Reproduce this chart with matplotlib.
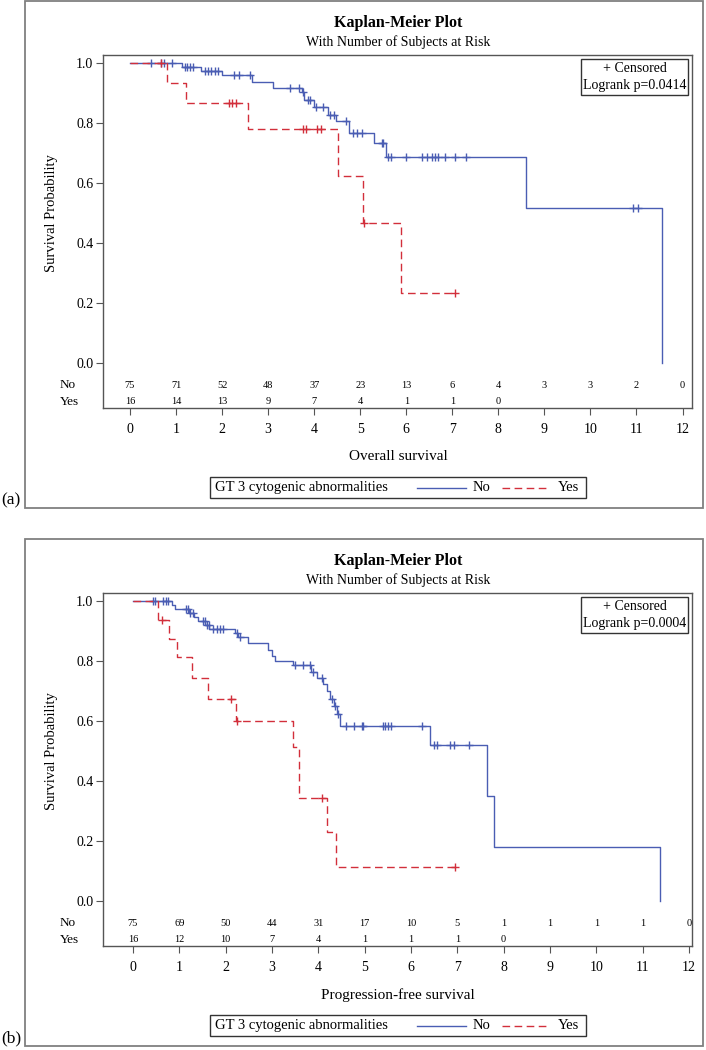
import numpy as np
import matplotlib
matplotlib.use('Agg')
import matplotlib.pyplot as plt
from matplotlib.patches import Rectangle
from matplotlib.lines import Line2D

plt.rcParams['font.family'] = ['Liberation Serif', 'DejaVu Serif']

W, H = 706, 1050
blue = '#4a5db3'
red = '#d22f3b'
frame = '#555555'

# ---- (a) overall survival ----
os_no_t = [0, 1.12, 1.55, 1.99, 2.65, 3.11, 3.73, 3.79, 4.0, 4.31, 4.47, 4.76,
           5.29, 5.57, 8.6, 11.55]
os_no_s = [1.0, 0.987, 0.973, 0.959, 0.938, 0.917, 0.903, 0.876, 0.853, 0.828,
           0.806, 0.768, 0.733, 0.686, 0.515, 0.0]
os_no_end = 11.55
os_no_cens = [0.45, 0.67, 0.73, 0.92, 1.19, 1.24, 1.3, 1.36, 1.63, 1.7, 1.77,
              1.84, 1.91, 2.26, 2.36, 2.61, 3.48, 3.67, 3.76, 3.87, 3.9, 4.05,
              4.2, 4.34, 4.42, 4.69, 4.85, 4.94, 5.03, 5.47, 5.5, 5.61, 5.67,
              6.0, 6.35, 6.45, 6.55, 6.62, 6.7, 6.85, 7.05, 7.3, 10.93, 11.03]

os_yes_t = [0, 0.8, 1.22, 2.57, 4.51, 5.05, 5.89]
os_yes_s = [1.0, 0.933, 0.867, 0.78, 0.624, 0.468, 0.234]
os_yes_end = 7.06
os_yes_cens = [0.68, 2.14, 2.22, 2.3, 3.75, 3.82, 4.06, 4.14, 5.09, 7.06]

os_no_risk = [75, 71, 52, 48, 37, 23, 13, 6, 4, 3, 3, 2, 0]
os_yes_risk = [16, 14, 13, 9, 7, 4, 1, 1, 0]

# ---- (b) progression-free survival ----
pfs_no_t = [0, 0.835, 0.905, 1.2, 1.31, 1.41, 1.56, 1.65, 2.2, 2.27, 2.49, 2.92,
            2.99, 3.06, 3.45, 3.85, 3.97, 4.10, 4.19, 4.26, 4.34, 4.40, 4.46,
            6.40, 7.63, 7.80, 11.37]
pfs_no_s = [1.0, 0.987, 0.973, 0.96, 0.947, 0.933, 0.92, 0.907, 0.893, 0.879,
            0.859, 0.837, 0.818, 0.8, 0.787, 0.765, 0.745, 0.722, 0.70, 0.673,
            0.65, 0.625, 0.585, 0.52, 0.35, 0.18, 0.0]
pfs_no_end = 11.37
pfs_no_cens = [0.44, 0.47, 0.65, 0.71, 0.76, 1.14, 1.19, 1.23, 1.29, 1.52, 1.55,
               1.60, 1.64, 1.73, 1.82, 1.88, 1.95, 2.24, 2.30, 3.50, 3.67, 3.83,
               3.88, 4.08, 4.30, 4.37, 4.43, 4.6, 4.77, 4.94, 4.97, 5.39, 5.44,
               5.5, 5.56, 6.23, 6.5, 6.57, 6.84, 6.93, 7.26]

pfs_yes_t = [0, 0.546, 0.777, 0.956, 1.267, 1.608, 2.217, 3.46, 3.583, 4.18, 4.375]
pfs_yes_s = [1.0, 0.9375, 0.875, 0.8125, 0.742, 0.675, 0.6, 0.514, 0.343, 0.229,
             0.114]
pfs_yes_end = 6.95
pfs_yes_cens = [0.62, 2.115, 2.245, 4.08, 6.95]

pfs_no_risk = [75, 69, 50, 44, 31, 17, 10, 5, 1, 1, 1, 1, 0]
pfs_yes_risk = [16, 12, 10, 7, 4, 1, 1, 1, 0]


def fx(x):
    return x / W


def fy(y):
    return 1 - y / H


def km(ax, t, s, end, cens, color, dashed, z):
    xs = list(t) + [end]
    ys = list(s) + [s[-1]]
    line, = ax.step(xs, ys, where='post', color=color, lw=1.0, zorder=z)
    if dashed:
        line.set_dashes([5.5, 3.2])
    idx = np.searchsorted(t, cens, side='right') - 1
    ax.plot(cens, np.array(s)[idx], ls='none', marker='+', ms=6, mew=1.0,
            color=color, zorder=z)


def panel(fig, dy, x0, x12, curves, risk_no, risk_yes, xlabel, pval, tag):
    # outer frame and label
    fig.add_artist(Rectangle((fx(25), fy(508 + dy)), fx(678), 507 / H,
                             transform=fig.transFigure, fill=False,
                             ec='#808080', lw=1.3))
    fig.text(fx(1), fy(500 + dy), tag, ha='left', va='center', fontsize=12.5)
    fig.text(fx(398), fy(23 + dy), 'Kaplan-Meier Plot', ha='center',
             va='center', fontsize=11.5, fontweight='bold')
    fig.text(fx(398), fy(42 + dy), 'With Number of Subjects at Risk',
             ha='center', va='center', fontsize=10)

    left, right, top, bottom = 103, 692, 55 + dy, 408 + dy
    ax = fig.add_axes([fx(left), fy(bottom), (right - left) / W,
                       (bottom - top) / H])
    ppu = (x12 - x0) / 12
    ax.set_xlim((left - x0) / ppu, (right - x0) / ppu)
    zero = 363 + dy
    ax.set_ylim((zero - bottom) / 300, (zero - top) / 300)

    for (t, s, end, cens, color, dashed, z) in curves:
        km(ax, t, s, end, cens, color, dashed, z)

    ax.set_yticks([0, 0.2, 0.4, 0.6, 0.8, 1.0])
    ax.set_yticklabels(['0.0', '0.2', '0.4', '0.6', '0.8', '1.0'])
    ax.set_xticks(range(13))
    ax.tick_params(axis='y', direction='out', length=5, pad=2, labelsize=10,
                   color=frame)
    ax.tick_params(axis='x', direction='out', length=5, pad=6, labelsize=10,
                   color=frame)
    for sp in ax.spines.values():
        sp.set_color(frame)
        sp.set_linewidth(1.0)

    # number at risk rows
    row_no = (363 - 385) / 300
    row_yes = (363 - 402) / 300
    for i, n in enumerate(risk_no):
        ax.text(i, row_no, str(n), ha='center', va='center', fontsize=7.5)
    for i, n in enumerate(risk_yes):
        ax.text(i, row_yes, str(n), ha='center', va='center', fontsize=7.5)
    tr = ax.get_yaxis_transform()
    ax.text((60 - left) / (right - left), row_no, 'No', transform=tr,
            ha='left', va='center', fontsize=9.5, clip_on=False)
    ax.text((60 - left) / (right - left), row_yes, 'Yes', transform=tr,
            ha='left', va='center', fontsize=9.5, clip_on=False)

    fig.text(fx(52), fy(213 + dy), 'Survival Probability', rotation=90,
             ha='center', va='center', fontsize=10.5)
    fig.text(fx(398), fy(457 + dy), xlabel, ha='center', va='center',
             fontsize=11)

    # censored / logrank box
    fig.add_artist(Rectangle((fx(581), fy(95 + dy)), fx(107), 36 / H,
                             transform=fig.transFigure, fill=False,
                             ec='#333333', lw=1.0))
    fig.text(fx(634.5), fy(69 + dy), '+ Censored', ha='center', va='center',
             fontsize=10)
    fig.text(fx(634.5), fy(86 + dy), 'Logrank p=' + pval, ha='center',
             va='center', fontsize=10)

    # group legend
    ly = 487.5 + dy
    fig.add_artist(Rectangle((fx(209.5), fy(498 + dy)), fx(376), 21 / H,
                             transform=fig.transFigure, fill=False,
                             ec='#333333', lw=1.0))
    fig.text(fx(215), fy(ly), 'GT 3 cytogenic abnormalities', ha='left',
             va='center', fontsize=10.5)
    fig.add_artist(Line2D([fx(417), fx(466)], [fy(ly), fy(ly)], color=blue,
                          lw=1.0, transform=fig.transFigure))
    fig.text(fx(473), fy(ly), 'No', ha='left', va='center', fontsize=10.5)
    dl = Line2D([fx(502), fx(547)], [fy(ly), fy(ly)], color=red, lw=1.0,
                transform=fig.transFigure)
    dl.set_dashes([5.5, 3.2])
    fig.add_artist(dl)
    fig.text(fx(558), fy(ly), 'Yes', ha='left', va='center', fontsize=10.5)
    return ax


fig = plt.figure(figsize=(W / 100, H / 100), dpi=100)

panel(fig, 0, 130, 682.5,
      [(os_no_t, os_no_s, os_no_end, os_no_cens, blue, False, 3),
       (os_yes_t, os_yes_s, os_yes_end, os_yes_cens, red, True, 4)],
      os_no_risk, os_yes_risk, 'Overall survival', '0.0414', '(a)')

panel(fig, 538, 133, 689,
      [(pfs_no_t, pfs_no_s, pfs_no_end, pfs_no_cens, blue, False, 3),
       (pfs_yes_t, pfs_yes_s, pfs_yes_end, pfs_yes_cens, red, True, 4)],
      pfs_no_risk, pfs_yes_risk, 'Progression-free survival', '0.0004', '(b)')

fig.savefig('out.png', dpi=100)
